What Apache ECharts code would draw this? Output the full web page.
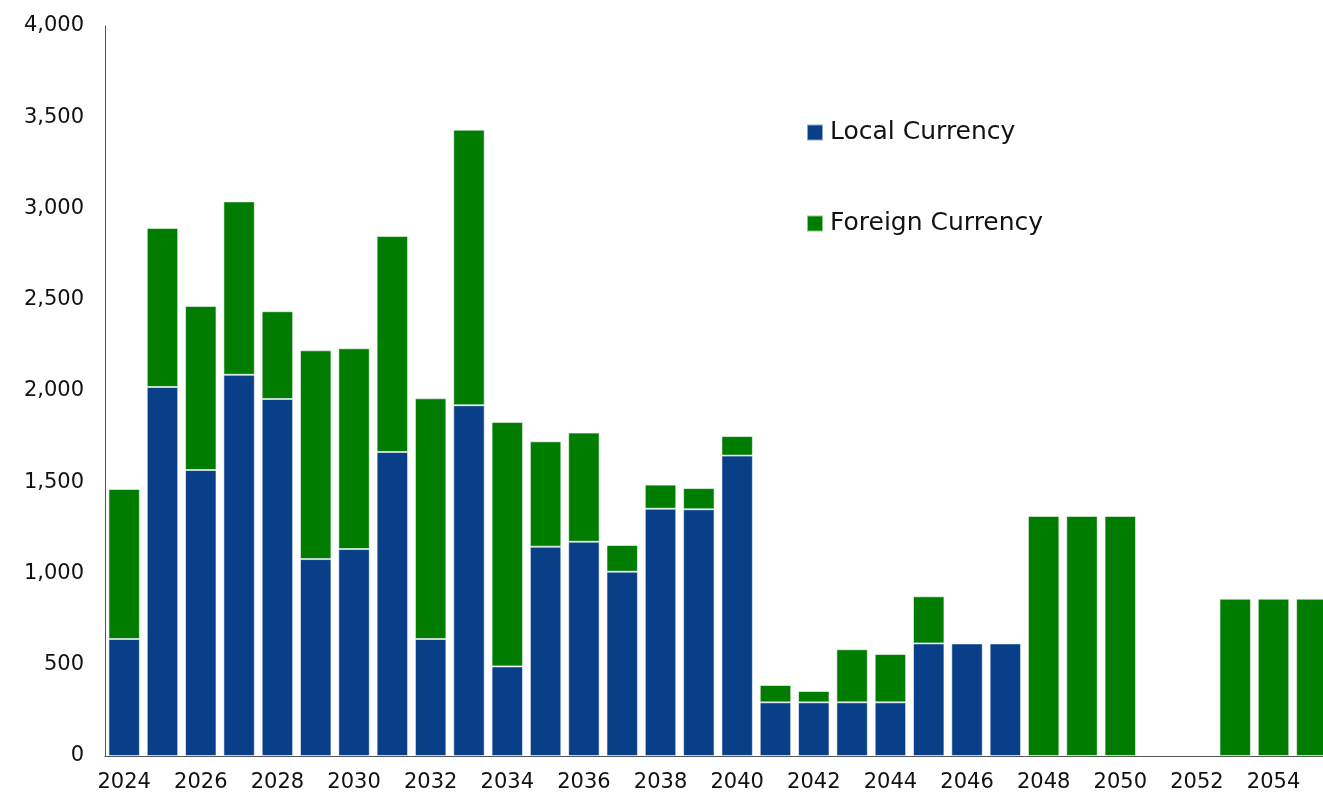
<!DOCTYPE html>
<html>
<head>
<meta charset="utf-8">
<script src="https://cdn.jsdelivr.net/npm/echarts@6/dist/echarts.min.js"></script>
<style>
  html, body { margin: 0; padding: 0; background: #fff; overflow: hidden; }
  #chart { width: 1331px; height: 796px; }
</style>
</head>
<body>
<div id="chart"></div>
<script>
var years = [];
for (var y = 2024; y <= 2055; y++) years.push(String(y));

// (null = no bar)
var localCurrency = [641, 2022, 1567, 2089, 1956, 1079, 1134, 1666, 641, 1922,
  491, 1147, 1174, 1010, 1355, 1352, 1646, 294, 294, 294,
  294, 617, 617, 617, null, null, null, null, null, null, null, null];
var foreignCurrency = [822, 871, 899, 950, 481, 1144, 1100, 1183, 1319, 1510,
  1339, 577, 598, 146, 132, 116, 107, 95, 62, 291,
  265, 258, 5, null, 1315, 1315, 1315, null, null, 862, 862, 862];

var myChart = echarts.init(document.getElementById('chart'));

var barBorder = {
  borderColor: 'rgba(255,255,255,0.55)',
  borderWidth: 1
};

myChart.setOption({
  animation: false,
  textStyle: { fontFamily: 'DejaVu Sans' },
  legend: {
    orient: 'vertical',
    left: 801,
    top: 113,
    itemWidth: 16,
    itemHeight: 16,
    itemGap: 62,
    icon: 'rect',
    textStyle: { fontSize: 25, color: '#111', lineHeight: 24, padding: [5, 0, 0, 2] },
    data: ['Local Currency', 'Foreign Currency']
  },
  grid: {
    left: 105,
    top: 26,
    width: 1226,
    height: 730
  },
  xAxis: {
    type: 'category',
    data: years,
    axisTick: { show: false },
    axisLine: { lineStyle: { color: '#555', width: 1 } },
    axisLabel: { interval: 1, fontSize: 21, color: '#111', margin: 16 }
  },
  yAxis: {
    type: 'value',
    min: 0,
    max: 4000,
    interval: 500,
    axisLine: { show: true, lineStyle: { color: '#555', width: 1 } },
    axisTick: { show: false },
    splitLine: { show: false },
    axisLabel: {
      fontSize: 21,
      color: '#111',
      margin: 21,
      formatter: function (v) { return v.toLocaleString('en-US'); }
    }
  },
  series: [
    {
      name: 'Local Currency',
      type: 'bar',
      stack: 'total',
      barCategoryGap: '18%',
      itemStyle: Object.assign({ color: '#083f88' }, barBorder),
      data: localCurrency
    },
    {
      name: 'Foreign Currency',
      type: 'bar',
      stack: 'total',
      itemStyle: Object.assign({ color: '#007c00' }, barBorder),
      data: foreignCurrency
    }
  ]
});

window.addEventListener('resize', function () {
  myChart.resize();
});
</script>
</body>
</html>
